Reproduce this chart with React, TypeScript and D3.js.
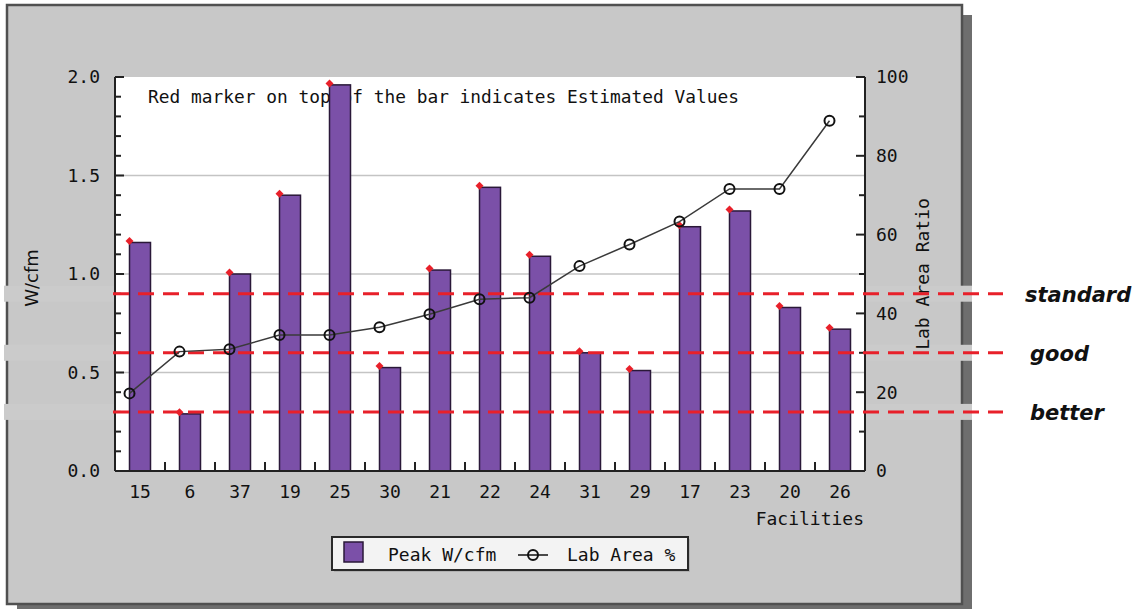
import React from 'react';
import * as d3 from 'd3';

const facilities = ['15', '6', '37', '19', '25', '30', '21', '22', '24', '31', '29', '17', '23', '20', '26'];
const peakWcfm = [1.16, 0.29, 1.0, 1.4, 1.96, 0.525, 1.02, 1.44, 1.09, 0.6, 0.51, 1.24, 1.32, 0.83, 0.72];
const labAreaPct = [19.7, 30.3, 30.9, 34.5, 34.5, 36.5, 39.8, 43.6, 44.0, 52.0, 57.5, 63.3, 71.6, 71.6, 88.9];
const leftTicks = [0, 0.5, 1.0, 1.5, 2.0];
const rightTicks = [0, 20, 40, 60, 80, 100];
const benchmarks = [
  { label: 'standard', value: 0.9 },
  { label: 'good', value: 0.6 },
  { label: 'better', value: 0.3 },
];

const mono = '"DejaVu Sans Mono", "Liberation Mono", monospace';
const sans = '"DejaVu Sans", Verdana, sans-serif';

const App = () => {
  const left = 115, right = 865, top = 77, bottom = 471;
  const barW = 21;
  const purple = '#7b50a8';
  const red = '#e8202a';

  const x = d3.scaleBand().domain(facilities).range([left, right]).padding(0);
  const yL = d3.scaleLinear().domain([0, 2]).range([bottom, top]);
  const yR = d3.scaleLinear().domain([0, 100]).range([bottom, top]);
  const bw = x.bandwidth();

  const barLeft = (c) => x(c) + bw / 2 - barW / 2;

  const line = d3.line()
    .x((d, i) => barLeft(facilities[i]))
    .y(d => yR(d));

  const minorL = d3.range(1, 20).map(i => i / 10).filter(v => Math.round(v * 10) % 5 !== 0);
  const minorR = d3.range(10, 100, 20);

  return (
    <svg width={1138} height={609} style={{ position: 'absolute', left: 0, top: 0, background: '#fff' }}>
      {/* panel with drop shadow */}
      <rect x={17} y={15} width={955} height={599} fill="#6e6e6e" />
      <rect x={7} y={5} width={955} height={599} fill="#c8c8c8" stroke="#505050" strokeWidth={2.5} />

      {/* pasted strips behind benchmark lines */}
      {benchmarks.map(b => (
        <rect key={'band' + b.label} x={4} y={yL(b.value) - 8} width={968} height={16} fill="#cbcbcb" />
      ))}

      {/* plot area */}
      <rect x={left} y={top} width={right - left} height={bottom - top} fill="#fff" />

      {/* grid */}
      {leftTicks.filter(v => v > 0 && v < 2).map(v => (
        <line key={'g' + v} x1={left} x2={right} y1={yL(v)} y2={yL(v)} stroke="#c4c4c4" strokeWidth={1.5} />
      ))}

      {/* note */}
      <text x={148} y={103} fontFamily={mono} fontSize={18} fill="#111" textLength={591} lengthAdjust="spacingAndGlyphs">
        Red marker on top of the bar indicates Estimated Values
      </text>

      {/* bars */}
      {facilities.map((c, i) => (
        <rect key={'b' + c} x={barLeft(c)} y={yL(peakWcfm[i])} width={barW} height={bottom - yL(peakWcfm[i])}
          fill={purple} stroke="#2a1838" strokeWidth={1.5} />
      ))}

      {/* estimated markers */}
      {facilities.map((c, i) => {
        const cx = barLeft(c), cy = yL(peakWcfm[i]) - 1.5;
        return (
          <path key={'m' + c} d={`M${cx},${cy - 4} L${cx + 4},${cy} L${cx},${cy + 4} L${cx - 4},${cy} Z`} fill={red} />
        );
      })}

      {/* axes */}
      <line x1={left} x2={left} y1={top} y2={bottom} stroke="#222" strokeWidth={2} />
      <line x1={right} x2={right} y1={top} y2={bottom} stroke="#222" strokeWidth={2} />
      <line x1={left} x2={right} y1={bottom} y2={bottom} stroke="#222" strokeWidth={2} />

      {leftTicks.map(v => (
        <g key={'lt' + v}>
          <line x1={left} x2={left + 9} y1={yL(v)} y2={yL(v)} stroke="#222" strokeWidth={2} />
          <text x={100} y={yL(v)} dy="0.36em" textAnchor="end" fontFamily={mono} fontSize={18} fill="#111">{v.toFixed(1)}</text>
        </g>
      ))}
      {minorL.map(v => (
        <line key={'ml' + v} x1={left} x2={left + 6} y1={yL(v)} y2={yL(v)} stroke="#222" strokeWidth={2} />
      ))}

      {rightTicks.map(v => (
        <g key={'rt' + v}>
          <line x1={right - 9} x2={right} y1={yR(v)} y2={yR(v)} stroke="#222" strokeWidth={2} />
          <text x={876} y={yR(v)} dy="0.36em" fontFamily={mono} fontSize={18} fill="#111">{v}</text>
        </g>
      ))}
      {minorR.map(v => (
        <line key={'mr' + v} x1={right - 6} x2={right} y1={yR(v)} y2={yR(v)} stroke="#222" strokeWidth={2} />
      ))}

      {facilities.slice(1).map(c => (
        <line key={'xt' + c} x1={x(c)} x2={x(c)} y1={bottom} y2={bottom - 9} stroke="#222" strokeWidth={2} />
      ))}
      {facilities.map(c => (
        <text key={'xl' + c} x={x(c) + bw / 2} y={498} textAnchor="middle" fontFamily={mono} fontSize={18} fill="#111">{c}</text>
      ))}

      <text x={864} y={525} textAnchor="end" fontFamily={mono} fontSize={18} fill="#111">Facilities</text>
      <text transform="translate(38,278) rotate(-90)" textAnchor="middle" fontFamily={sans} fontSize={18} fill="#111">W/cfm</text>
      <text transform="translate(929,274) rotate(-90)" textAnchor="middle" fontFamily={mono} fontSize={18} fill="#111">Lab Area Ratio</text>

      {/* benchmark lines */}
      {benchmarks.map(b => (
        <line key={'bl' + b.label} x1={113} x2={1003} y1={yL(b.value)} y2={yL(b.value)} stroke={red} strokeWidth={3} strokeDasharray="16 9" />
      ))}

      {/* lab area line */}
      <path d={line(labAreaPct)} fill="none" stroke="#3a3a3a" strokeWidth={1.5} />
      {labAreaPct.map((v, i) => (
        <circle key={'c' + i} cx={barLeft(facilities[i])} cy={yR(v)} r={5} fill="none" stroke="#111" strokeWidth={2} />
      ))}

      {/* benchmark labels */}
      {benchmarks.map((b, i) => (
        <text key={'bt' + b.label} x={i === 0 ? 1025 : 1030} y={yL(b.value) + 8} fontFamily={sans} fontSize={21}
          fontWeight="bold" fontStyle="italic" fill="#111">{b.label}</text>
      ))}

      {/* legend */}
      <rect x={334} y={539} width={356} height={33} fill="#9a9a9a" opacity={0.5} />
      <rect x={332} y={537} width={356} height={33} fill="#f3f3f3" stroke="#2a2a2a" strokeWidth={2} />
      <rect x={344} y={542} width={19} height={20} fill={purple} stroke="#2a1838" strokeWidth={1.5} />
      <text x={388} y={561} fontFamily={mono} fontSize={18} fill="#111">Peak W/cfm</text>
      <line x1={518} x2={548} y1={555} y2={555} stroke="#111" strokeWidth={1.5} />
      <circle cx={533} cy={555} r={5} fill="none" stroke="#111" strokeWidth={2} />
      <text x={567} y={561} fontFamily={mono} fontSize={18} fill="#111">Lab Area %</text>
    </svg>
  );
};

export default App;
